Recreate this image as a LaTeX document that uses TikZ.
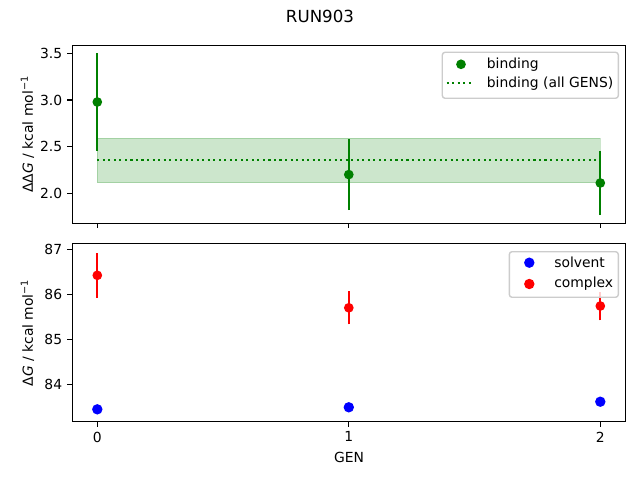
\documentclass[tikz,border=0pt]{standalone}
\usepackage{fontspec}
\setmainfont{DejaVu Sans}
\definecolor{mplgreen}{HTML}{008000}
\definecolor{mplred}{HTML}{FF0000}
\definecolor{mplblue}{HTML}{0000FF}
\definecolor{legframe}{HTML}{CCCCCC}
\begin{document}
\begin{tikzpicture}[x=0.72pt,y=0.72pt,font=\fontsize{10pt}{12pt}\selectfont,
	axframe/.style={line width=0.8pt},
	axtick/.style={line width=0.8pt},
	ticklab/.style={inner sep=0pt},
	errbar/.style={line width=1.5pt},
	dotline/.style={mplgreen,line width=1.5pt,dash pattern=on 1.5pt off 2.475pt},
	confband/.style={fill=mplgreen,fill opacity=0.2,draw=mplgreen,draw opacity=0.2,line width=1pt},
	legbox/.style={draw=legframe,fill=white,fill opacity=0.8,line width=1pt,rounded corners=2pt}]
	\def\rerr{3.5pt} \def\rsc{3.75pt} % marker radii
	\useasboundingbox (0,0) rectangle (640,480);
	\node (title) [anchor=base,font=\fontsize{12pt}{14pt}\selectfont] at (320,457.3) {RUN903};
	% upper panel: binding
	\begin{scope}[shift={(70.056pt,72.108pt)},x=181.08pt,y=67.176pt]
		\def\xmin{-0.1} \def\xmax{2.1}
		\def\ymin{1.678} \def\ymax{3.586}
		\draw[confband] (0,2.113) rectangle (2,2.589);
		\draw[dotline] (0,2.356)--(2,2.356);
		\foreach \g/\v/\e in {0/2.978/0.522,1/2.2/0.382,2/2.11/0.345}{
			\draw[errbar,mplgreen] (\g,{\v-\e})--(\g,{\v+\e});
			\fill[mplgreen] (\g,\v) circle(\rerr);
		}
		\draw[axframe] (\xmin,\ymin) rectangle (\xmax,\ymax);
		\foreach \g in {0,1,2} \draw[axtick] (\g,\ymin)--++(0,-3.5pt);
		\foreach \v [count=\i] in {2.0,2.5,3.0,3.5}{
			\draw[axtick] (\xmin,\v)--++(-3.5pt,0);
			\node (ytop\i) [ticklab,anchor=east,xshift=-7pt] at (\xmin,\v) {\v};
		}
	\end{scope}
	% lower panel: solvent and complex
	\begin{scope}[shift={(70.056pt,-2652.696pt)},x=181.08pt,y=32.4pt]
		\def\xmin{-0.1} \def\xmax{2.1}
		\def\ymin{83.169} \def\ymax{87.124}
		\foreach \g/\v/\e in {0/86.422/0.5,1/85.7/0.37,2/85.74/0.32}{
			\draw[errbar,mplred] (\g,{\v-\e})--(\g,{\v+\e});
			\fill[mplred] (\g,\v) circle(\rerr);
		}
		\foreach \g/\v in {0/83.444,1/83.489,2/83.613}
			\fill[mplblue] (\g,\v) circle(\rsc);
		\draw[axframe] (\xmin,\ymin) rectangle (\xmax,\ymax);
		\foreach \g in {0,1,2}{
			\draw[axtick] (\g,\ymin)--++(0,-3.5pt);
			\node (xbot\g) [ticklab,anchor=north,yshift=-7pt] at (\g,\ymin) {\g};
		}
		\foreach \v in {84,85,86,87}{
			\draw[axtick] (\xmin,\v)--++(-3.5pt,0);
			\node (ybot\v) [ticklab,anchor=east,xshift=-7pt] at (\xmin,\v) {\v};
		}
	\end{scope}
	% legends
	\draw[legbox] (442.3,381.7) rectangle (618.3,427.7);
	\fill[mplgreen] (461,415.7) circle(\rerr);
	\node (legbind) [anchor=west] at (482,415.7) {binding};
	\draw[dotline] (446.7,396.7)--(474.3,396.7);
	\node (legall) [anchor=west] at (482,396.7) {binding (all GENS)};
	\draw[legbox] (509.3,182.7) rectangle (618.3,228.3);
	\fill[mplblue] (529.3,217.3) circle(\rsc);
	\node (legsolv) [anchor=west] at (549.4,217.3) {solvent};
	\fill[mplred] (529.3,196) circle(\rsc);
	\node (legcplx) [anchor=west] at (549.4,196) {complex};
	% axis labels
	\node (xlab) [anchor=base] at (349,17.7) {GEN};
	\node (ylabtop) [rotate=90] at (27.5,345.7) {ΔΔ\textit{G} / kcal mol\textsuperscript{−1}};
	\node (ylabbot) [rotate=90] at (27.5,147.3) {Δ\textit{G} / kcal mol\textsuperscript{−1}};
\end{tikzpicture}
\end{document}
